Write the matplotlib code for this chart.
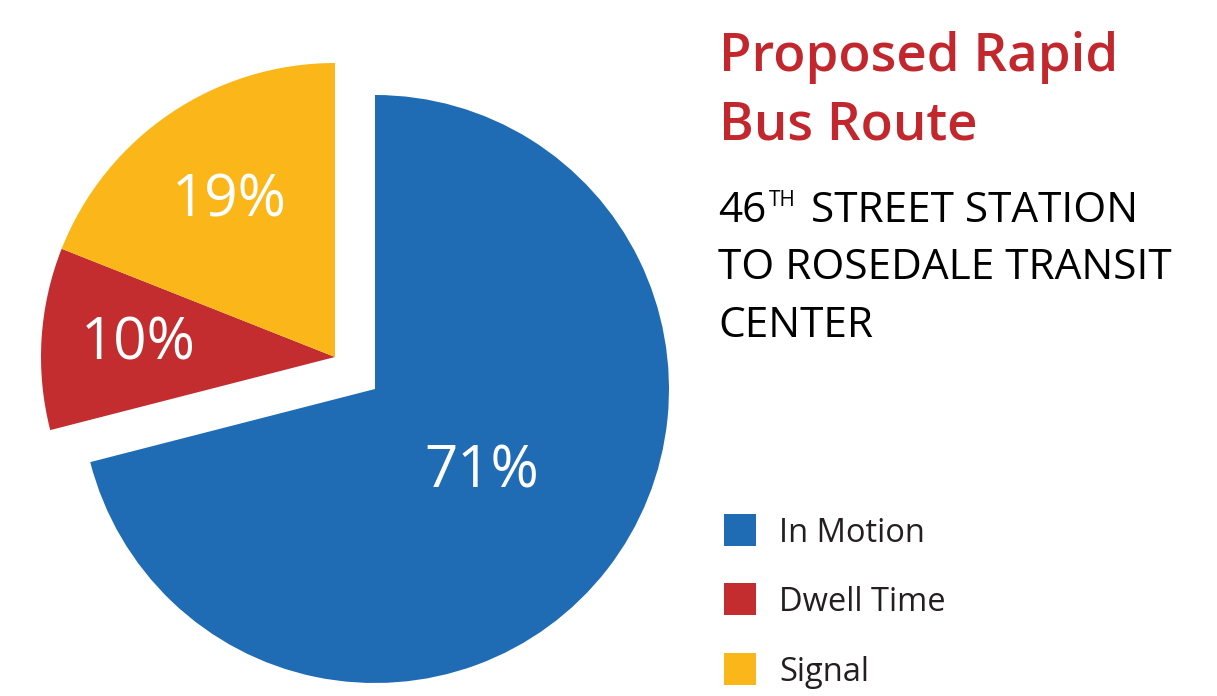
"""Render out.png: proposed rapid bus route time breakdown pie."""

import numpy as np
import matplotlib
matplotlib.use("Agg")
import matplotlib.pyplot as plt

W, H = 1217, 696

CATEGORIES = ["In Motion", "Dwell Time", "Signal"]
SHARES = [71, 10, 19]
COLORS = ["#1f6bb4", "#c42d30", "#fbb619"]
TITLE_RED = "#c1272d"

TITLE_LINES = ["Proposed Rapid", "Bus Route"]
SUB_LINES = ["TO ROSEDALE TRANSIT", "CENTER"]

FONT = "Open Sans"

fig = plt.figure(figsize=(W / 100, H / 100), dpi=100)
ax = fig.add_axes([0, 0, 1, 1])

# pie in pixel space (y flipped so image rows read top-down)
cx, cy, r = 375, H - 389, 294
wedges, _ = ax.pie(
    SHARES, colors=COLORS, startangle=90, counterclock=False,
    center=(cx, cy), radius=r, frame=True,
    wedgeprops=dict(linewidth=0),
)
ax.set_xlim(0, W)
ax.set_ylim(0, H)
ax.set_aspect("equal")
ax.axis("off")

# the two smaller slices pulled out together, up and to the left
shift = np.array([-40, 32])
label_frac = [0.46, 0.67, 0.64]
for i, w in enumerate(wedges):
    c = np.array([cx, cy], dtype=float)
    if i > 0:
        c = c + shift
        w.set_center(tuple(c))
    mid = np.deg2rad((w.theta1 + w.theta2) / 2)
    lx = c[0] + r * label_frac[i] * np.cos(mid)
    ly = c[1] + r * label_frac[i] * np.sin(mid)
    ax.text(lx, ly, f"{SHARES[i]}%", color="white", fontsize=42,
            family=FONT, ha="center", va="center")

# title block
for line, base in zip(TITLE_LINES, [71, 139]):
    ax.text(719, H - base, line, color=TITLE_RED, fontsize=38, family=FONT,
            fontweight="semibold", ha="left", va="baseline")

sub_size = 30.5
ax.text(718, H - 222, "46", fontsize=sub_size, family=FONT, ha="left", va="baseline")
ax.text(769, H - 206, "TH", fontsize=15, family=FONT, ha="left", va="baseline")
ax.text(811, H - 222, "STREET STATION", fontsize=sub_size, family=FONT,
        ha="left", va="baseline")
for line, base in zip(SUB_LINES, [279, 337]):
    ax.text(718, H - base, line, fontsize=sub_size, family=FONT,
            ha="left", va="baseline")

# legend
box_tops = [514, 583, 653]
for name, color, top in zip(CATEGORIES, COLORS, box_tops):
    ax.add_patch(plt.Rectangle((724, H - top - 32), 32, 32, color=color, lw=0))
    ax.text(779, H - top - 28, name, fontsize=23.5, family=FONT,
            color="#231f20", ha="left", va="baseline")

fig.savefig("out.png", dpi=100)
